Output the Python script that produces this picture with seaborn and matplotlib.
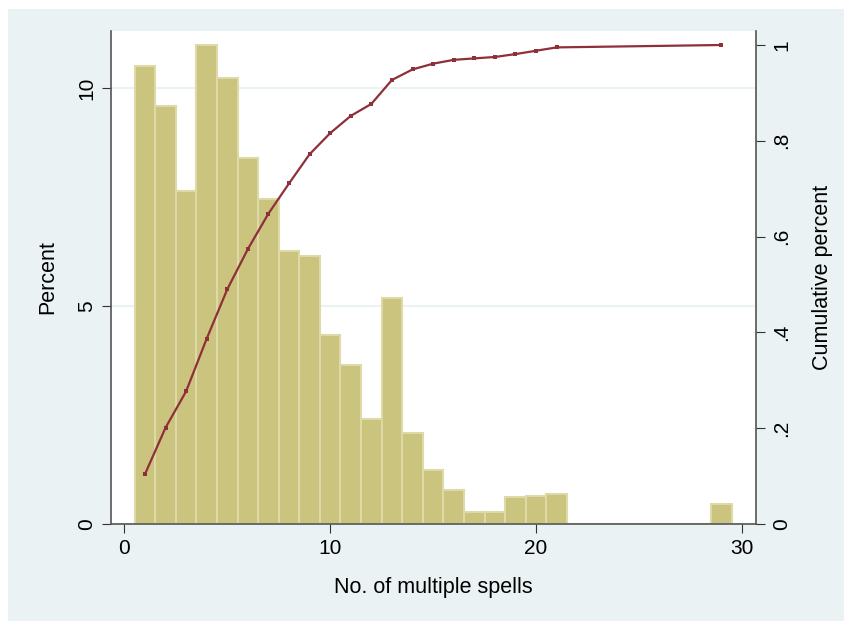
import matplotlib
matplotlib.use("Agg")
import matplotlib.pyplot as plt
import seaborn as sns
import pandas as pd
from matplotlib.patches import Rectangle

# Data
spells = [1, 2, 3, 4, 5, 6, 7, 8, 9, 10, 11, 12, 13, 14, 15, 16, 17, 18, 19, 20, 21, 29]
percent = [10.51, 9.59, 7.64, 11.00, 10.24, 8.39, 7.45, 6.27, 6.15, 4.33, 3.65, 2.40,
           5.19, 2.09, 1.24, 0.78, 0.28, 0.28, 0.63, 0.65, 0.69, 0.47]
cum_share = [0.104, 0.201, 0.277, 0.387, 0.490, 0.574, 0.648, 0.711, 0.772, 0.816, 0.852,
             0.877, 0.927, 0.949, 0.961, 0.969, 0.972, 0.975, 0.981, 0.988, 0.995, 1.0]
x_ticks = [0, 10, 20, 30]
left_ticks = [0, 5, 10]
right_ticks = [0, 0.2, 0.4, 0.6, 0.8, 1.0]
right_tick_labels = ["0", ".2", ".4", ".6", ".8", "1"]

df = pd.DataFrame({"spells": spells, "percent": percent, "cum": cum_share})

sns.set_theme(style="white")
plt.rcParams["font.family"] = ["Liberation Sans", "DejaVu Sans"]
plt.rcParams["text.color"] = "black"
plt.rcParams["axes.labelcolor"] = "black"
plt.rcParams["xtick.labelcolor"] = "black"
plt.rcParams["ytick.labelcolor"] = "black"

W, H = 845, 621
fig = plt.figure(figsize=(W / 100, H / 100), dpi=100, facecolor="#EAF2F3")

bg = fig.add_axes([0, 0, 1, 1], zorder=-10)
bg.set_xlim(0, W)
bg.set_ylim(0, H)
bg.add_patch(Rectangle((0, 0), 8, H, facecolor="white", edgecolor="none"))
bg.add_patch(Rectangle((0, H - 9), W, 9, facecolor="white", edgecolor="none"))
bg.axis("off")

ax = fig.add_axes([111 / W, 1 - 524 / H, (756 - 111) / W, (524 - 31) / H], zorder=1)
ax.set_facecolor("white")

sns.histplot(data=df, x="spells", weights="percent", discrete=True, shrink=1.0,
             color="#CBC47E", edgecolor="#DEDAA8", linewidth=1.5, alpha=1.0, ax=ax)

ax.set_xlim(-0.65, 30.69)
ax.set_ylim(0, 11.31)
ax.set_xticks(x_ticks)
ax.set_yticks(left_ticks)
ax.set_yticklabels([str(t) for t in left_ticks], rotation=90, va="center")
ax.grid(axis="y", color="#EAF2F3", linewidth=1.5)
ax.set_axisbelow(True)
ax.set_xlabel("No. of multiple spells", fontsize=15.5, labelpad=14)
ax.set_ylabel("Percent", fontsize=15.5, labelpad=14)
ax.tick_params(axis="both", which="major", direction="out", length=6.5, width=0.8,
               color="#333333", labelsize=15, pad=4, left=True, bottom=True)
for s in ["top", "right"]:
    ax.spines[s].set_visible(False)
for s in ["left", "bottom"]:
    ax.spines[s].set_color("#555555")
    ax.spines[s].set_linewidth(1.2)

ax2 = ax.twinx()
sns.lineplot(data=df, x="spells", y="cum", color="#8E2F3A", linewidth=1.6,
             marker="s", markersize=3, markeredgewidth=0, ax=ax2)
ax2.set_ylim(0, (524 - 31) / 479)
ax2.set_xlim(-0.65, 30.69)
ax2.set_yticks(right_ticks)
ax2.set_yticklabels(right_tick_labels, rotation=90, va="center")
ax2.set_ylabel("Cumulative percent", fontsize=15.5, labelpad=15)
ax2.tick_params(axis="y", direction="out", length=6.5, width=0.8, color="#333333",
                labelsize=15, pad=5, right=True)
for s in ["top", "left", "bottom"]:
    ax2.spines[s].set_visible(False)
ax2.spines["right"].set_color("#555555")
ax2.spines["right"].set_linewidth(1.2)
ax2.grid(False)

fig.savefig("out.png", dpi=100, facecolor=fig.get_facecolor())
